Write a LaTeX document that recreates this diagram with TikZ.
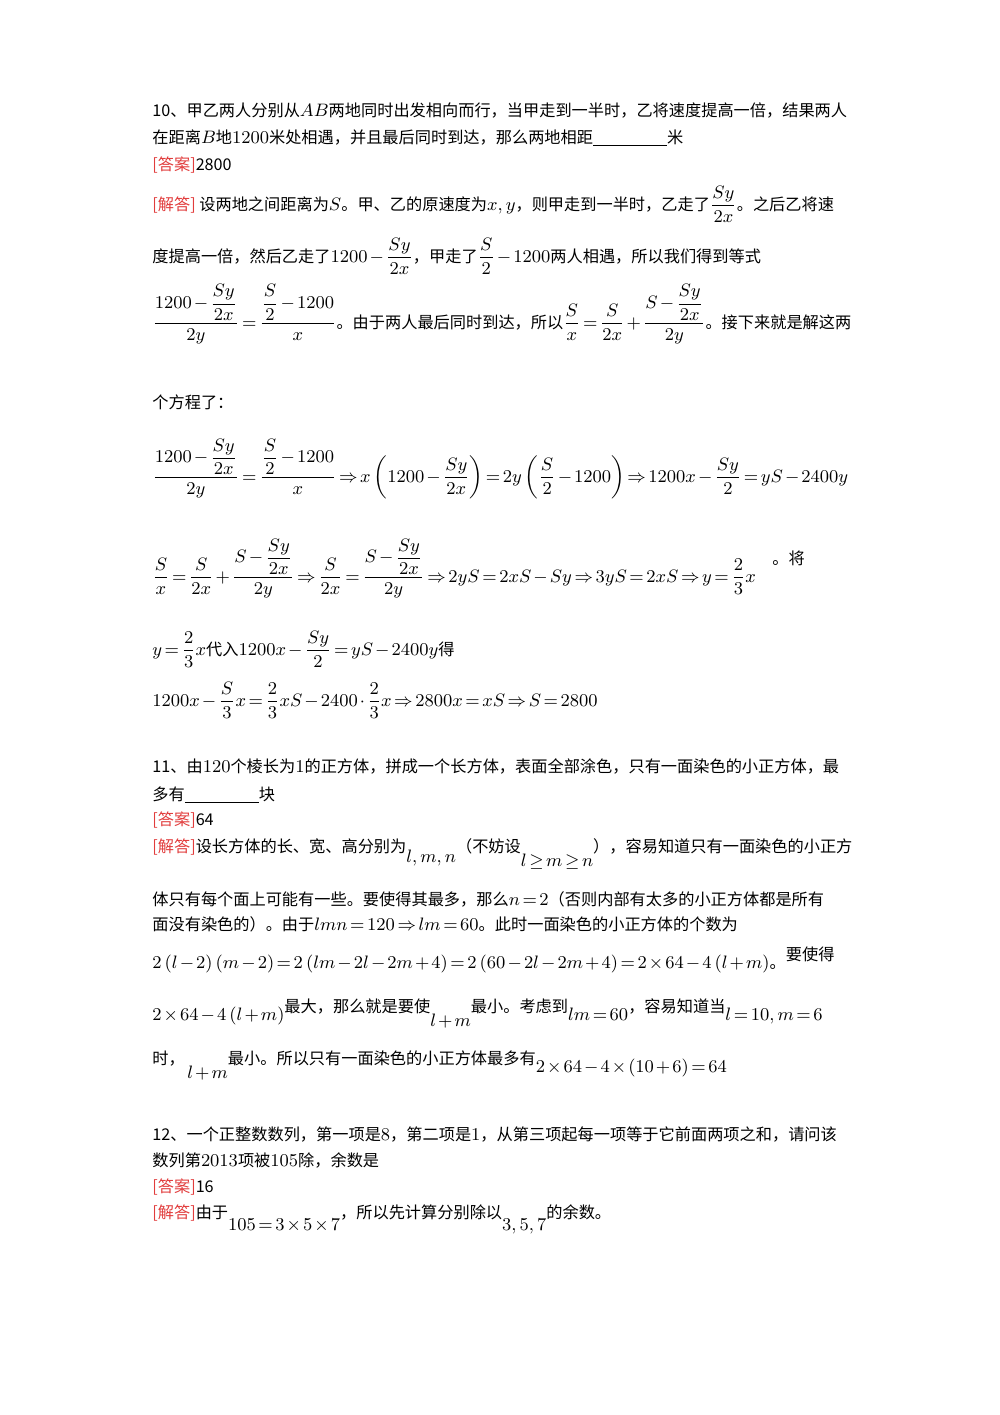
\documentclass[tikz,border=0pt]{standalone}
\usepackage{amsmath}
\usepackage{fontspec}
\setmainfont{Noto Sans CJK SC}
\definecolor{ans}{RGB}{225,60,60}
\newcommand{\mth}[1]{{\fontsize{9.5}{11}\selectfont\thickmuskip=2.5mu\medmuskip=2mu$#1$}}
\newcommand{\hd}[1]{\textcolor{ans}{[#1]}}
\newcommand{\blank}{\underline{\hspace{37pt}}}
\begin{document}
\begin{tikzpicture}[x=0.5pt,y=-0.5pt,ln/.style={anchor=base west,inner sep=0pt,font=\fontsize{8.1}{10}\selectfont}]
\useasboundingbox (0,0) rectangle (1000,1415);
\node[ln] (l1) at (152,116) {10、甲乙两人分别从\mth{AB}两地同时出发相向而行，当甲走到一半时，乙将速度提高一倍，结果两人};
\node[ln] (l2) at (152,143) {在距离\mth{B}地\mth{1200}米处相遇，并且最后同时到达，那么两地相距\blank 米};
\node[ln] (l3) at (152,170) {\hd{答案}2800};
\node[ln] (l4) at (152,210) {\hd{解答} 设两地之间距离为\mth{S}。甲、乙的原速度为\mth{x,y}，则甲走到一半时，乙走了\mth{\dfrac{Sy}{2x}}。之后乙将速};
\node[ln] (l5) at (152,262) {度提高一倍，然后乙走了\mth{1200-\dfrac{Sy}{2x}}，甲走了\mth{\dfrac{S}{2}-1200}两人相遇，所以我们得到等式};
\node[ln] (l6) at (152,328) {\mth{\dfrac{1200-\dfrac{Sy}{2x}}{2y}=\dfrac{\dfrac{S}{2}-1200}{x}}。由于两人最后同时到达，所以\mth{\dfrac{S}{x}=\dfrac{S}{2x}+\dfrac{S-\dfrac{Sy}{2x}}{2y}}。接下来就是解这两};
\node[ln] (l7) at (152,408) {个方程了：};
\node[ln] (l8) at (152,482) {\mth{\dfrac{1200-\dfrac{Sy}{2x}}{2y}=\dfrac{\dfrac{S}{2}-1200}{x}\Rightarrow x\left(1200-\dfrac{Sy}{2x}\right)=2y\left(\dfrac{S}{2}-1200\right)\Rightarrow 1200x-\dfrac{Sy}{2}=yS-2400y}};
\node[ln] (l9) at (152,582) {\mth{\dfrac{S}{x}=\dfrac{S}{2x}+\dfrac{S-\dfrac{Sy}{2x}}{2y}\Rightarrow\dfrac{S}{2x}=\dfrac{S-\dfrac{Sy}{2x}}{2y}\Rightarrow 2yS=2xS-Sy\Rightarrow 3yS=2xS\Rightarrow y=\dfrac{2}{3}x}};
\node[ln] (l9b) at (772,564) {。将};
\node[ln] (l10) at (152,655) {\mth{y=\dfrac{2}{3}x}代入\mth{1200x-\dfrac{Sy}{2}=yS-2400y}得};
\node[ln] (l11) at (152,706) {\mth{1200x-\dfrac{S}{3}x=\dfrac{2}{3}xS-2400\cdot\dfrac{2}{3}x\Rightarrow 2800x=xS\Rightarrow S=2800}};
\node[ln] (m1) at (152,772) {11、由\mth{120}个棱长为\mth{1}的正方体，拼成一个长方体，表面全部涂色，只有一面染色的小正方体，最};
\node[ln] (m2) at (152,800) {多有\blank 块};
\node[ln] (m3) at (152,825) {\hd{答案}64};
\node[ln] (m4) at (152,852) {\hd{解答}设长方体的长、宽、高分别为\raisebox{-5pt}{\mth{l,m,n}}（不妨设\raisebox{-7pt}{\mth{l\ge m\ge n}}），容易知道只有一面染色的小正方};
\node[ln] (m5) at (152,905) {体只有每个面上可能有一些。要使得其最多，那么\mth{n=2}（否则内部有太多的小正方体都是所有};
\node[ln] (m6) at (152,930) {面没有染色的）。由于\mth{lmn=120\Rightarrow lm=60}。此时一面染色的小正方体的个数为};
\node[ln] (m7) at (152,968) {\mth{2\left(l-2\right)\left(m-2\right)=2\left(lm-2l-2m+4\right)=2\left(60-2l-2m+4\right)=2\times64-4\left(l+m\right)}。\raisebox{4pt}{要使得}};
\node[ln] (m8) at (152,1020) {\mth{2\times64-4\left(l+m\right)}\raisebox{4pt}{最大，那么就是要使}\raisebox{-3pt}{\mth{l+m}}\raisebox{4pt}{最小。考虑到}\mth{lm=60}\raisebox{4pt}{，容易知道当}\mth{l=10,m=6}};
\node[ln] (m9) at (152,1072) {\raisebox{4pt}{时，}\raisebox{-3pt}{\mth{\;l+m}}\raisebox{4pt}{最小。所以只有一面染色的小正方体最多有}\mth{2\times64-4\times\left(10+6\right)=64}};
\node[ln] (n1) at (152,1140) {12、一个正整数数列，第一项是\mth{8}，第二项是\mth{1}，从第三项起每一项等于它前面两项之和，请问该};
\node[ln] (n2) at (152,1166) {数列第\mth{2013}项被\mth{105}除，余数是};
\node[ln] (n3) at (152,1192) {\hd{答案}16};
\node[ln] (n4) at (152,1218) {\hd{解答}由于\raisebox{-6pt}{\mth{105=3\times5\times7}}，所以先计算分别除以\raisebox{-6pt}{\mth{3,5,7}}的余数。};
\end{tikzpicture}
\end{document}
